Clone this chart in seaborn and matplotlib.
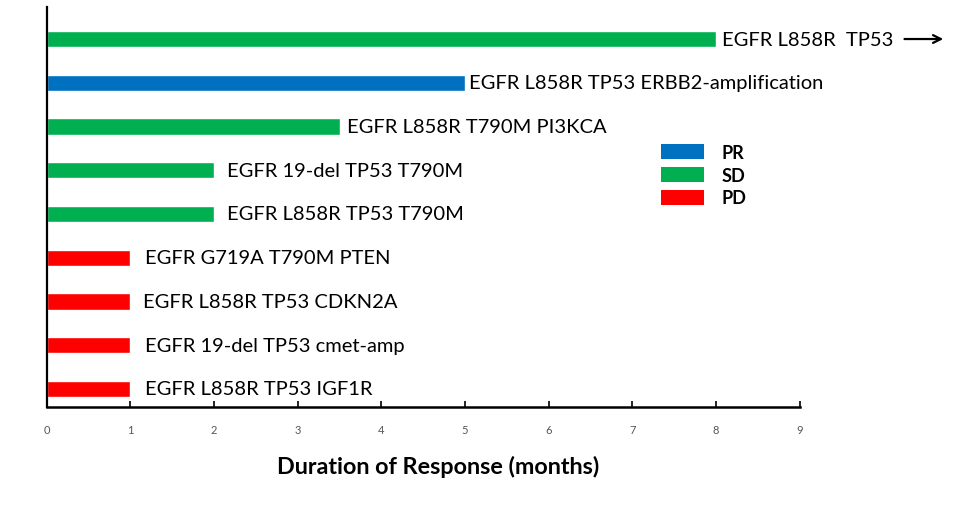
import pandas as pd
import matplotlib
matplotlib.use('Agg')
import matplotlib.pyplot as plt
import seaborn as sns
from matplotlib.patches import Patch

mutations = [
    'EGFR L858R  TP53',
    'EGFR L858R TP53 ERBB2-amplification',
    'EGFR L858R T790M PI3KCA',
    'EGFR 19-del TP53 T790M',
    'EGFR L858R TP53 T790M',
    'EGFR G719A T790M PTEN',
    'EGFR L858R TP53 CDKN2A',
    'EGFR 19-del TP53 cmet-amp',
    'EGFR L858R TP53 IGF1R',
]
months = [8, 5, 3.5, 2, 2, 1, 1, 1, 1]
response = ['SD', 'PR', 'SD', 'SD', 'SD', 'PD', 'PD', 'PD', 'PD']
ticks = list(range(10))

# label gap after each bar end (months)
label_gap = [0.07, 0.05, 0.09, 0.15, 0.15, 0.17, 0.15, 0.17, 0.17]

colors = {'PR': '#0070c0', 'SD': '#00b050', 'PD': '#ff0000'}

df = pd.DataFrame({'mutation': mutations, 'months': months, 'response': response})

sns.set_style('white')
plt.rcParams['font.family'] = ['Lato', 'DejaVu Sans']

fig = plt.figure(figsize=(9.74, 5.06), dpi=100)
ax = fig.add_axes([0.048, 0.194, 0.773, 0.790])

sns.barplot(data=df, x='months', y='mutation', hue='response', palette=colors,
            dodge=False, width=0.37, legend=False, saturation=1, ax=ax)

for i, (m, lab) in enumerate(zip(months, mutations)):
    ax.text(m + label_gap[i], i, lab, va='center', ha='left', fontsize=14.5, color='black')

# arrow after the ongoing response
ax.annotate('', xy=(10.75, 0), xytext=(10.22, 0),
            arrowprops=dict(arrowstyle='->', lw=1.6, color='black', mutation_scale=14),
            annotation_clip=False)

ax.set_xlim(0, 9)
ax.set_ylim(8.41, -0.73)
ax.set_xticks(ticks)
ax.set_xticklabels([str(t) for t in ticks], fontsize=8, color='#555555')
ax.set_yticks([])
ax.set_ylabel('')
ax.set_xlabel('Duration of Response (months)', fontsize=16.8, fontweight='bold', color='black')
ax.xaxis.set_label_coords(0.52, -0.12)

for s in ['top', 'right']:
    ax.spines[s].set_visible(False)
ax.spines['left'].set_linewidth(1.6)
ax.spines['bottom'].set_linewidth(1.8)
ax.spines['left'].set_color('black')
ax.spines['bottom'].set_color('black')
ax.tick_params(axis='x', direction='in', length=4, width=1.2, color='black', bottom=True, pad=12)

handles = [Patch(facecolor=colors[k], edgecolor='none', label=k) for k in ['PR', 'SD', 'PD']]
leg = fig.legend(handles=handles, loc='upper left', bbox_to_anchor=(0.662, 0.746),
                 frameon=False, handlelength=2.4, handleheight=0.9, handletextpad=0.95,
                 labelspacing=0.32, prop={'weight': 'bold', 'size': 13})
for t in leg.get_texts():
    t.set_color('black')

fig.savefig('out.png', dpi=100)
